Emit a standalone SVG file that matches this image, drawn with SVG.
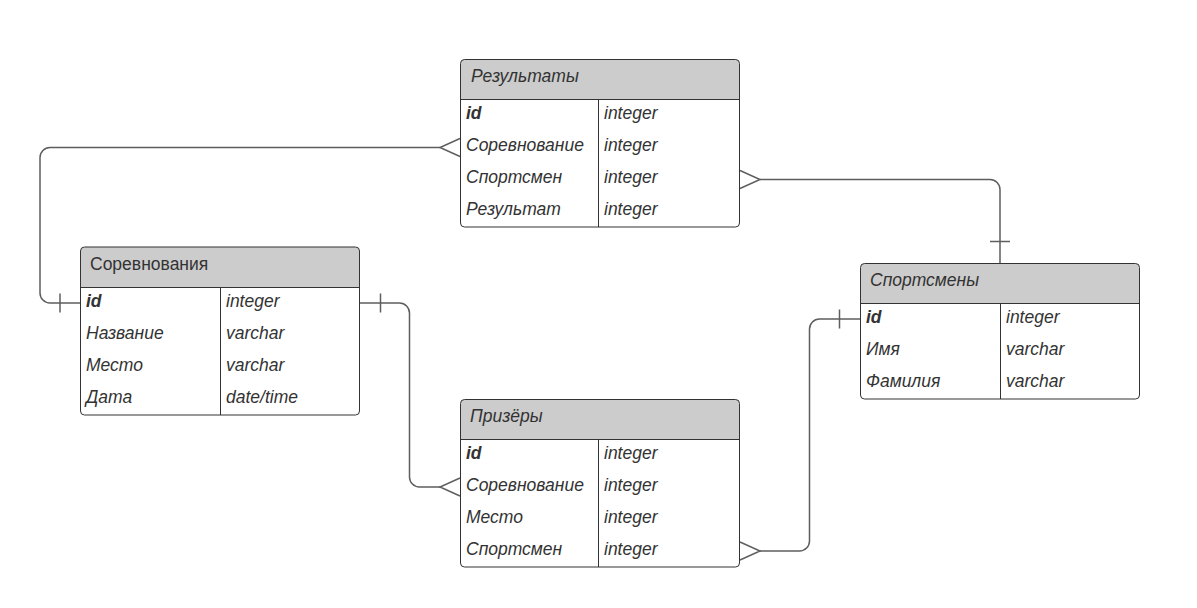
<svg xmlns="http://www.w3.org/2000/svg" width="1197" height="608" viewBox="0 0 1197 608">
<style>
.box{fill:none;stroke:#333333;stroke-width:1}
.hdr{fill:#cccccc}
.ln{stroke:#333333;stroke-width:1;fill:none}
.t{font-family:"Liberation Sans",Arial,sans-serif;font-size:17.5px;font-style:italic;fill:#333333}
.h{font-family:"Liberation Sans",Arial,sans-serif;font-size:17.5px;font-style:italic;fill:#333333}
.b{font-weight:bold}
.n{font-style:normal}
.c{stroke:#5e5e5e;stroke-width:1.5;fill:none}
</style>
<rect width="1197" height="608" fill="#ffffff"/>
<g id="connectors">
  <path class="c" d="M440,147.5 H50 A10,10 0 0 0 40,157.5 V293 A10,10 0 0 0 50,303 H80"/>
  <path class="c" d="M460,138.5 L440,147.5 L460,156.5"/>
  <path class="c" d="M60,293.5 V312.5"/>
  <path class="c" d="M360,303 H399.5 A10,10 0 0 1 409.5,313 V477 A10,10 0 0 0 419.5,487 H440"/>
  <path class="c" d="M380.5,293.5 V312.5"/>
  <path class="c" d="M460,478 L440,487 L460,496"/>
  <path class="c" d="M760,179.5 H990 A10,10 0 0 1 1000,189.5 V263"/>
  <path class="c" d="M740,170.5 L760,179.5 L740,188.5"/>
  <path class="c" d="M990,241.5 H1010"/>
  <path class="c" d="M760,551 H799.5 A10,10 0 0 0 809.5,541 V329 A10,10 0 0 1 819.5,319 H860"/>
  <path class="c" d="M740,542 L760,551 L740,560"/>
  <path class="c" d="M839.5,309.5 V328.5"/>
</g>
<g id="rezultaty">
  <path class="hdr" d="M464.5,59.5 H735.5 A4,4 0 0 1 739.5,63.5 V99.5 H460.5 V63.5 A4,4 0 0 1 464.5,59.5 Z"/>
  <rect class="box" x="460.5" y="59.5" width="279" height="167.5" rx="4"/>
  <path class="ln" d="M460.5,99.5 H739.5 M598.5,99.5 V227"/>
  <text class="h" x="471" y="82">Результаты</text>
  <text class="t b" x="466" y="119">id</text>
  <text class="t" x="466" y="151">Соревнование</text>
  <text class="t" x="466" y="183">Спортсмен</text>
  <text class="t" x="466" y="215">Результат</text>
  <text class="t" x="604" y="119">integer</text>
  <text class="t" x="604" y="151">integer</text>
  <text class="t" x="604" y="183">integer</text>
  <text class="t" x="604" y="215">integer</text>
</g>
<g id="sorevnovaniya">
  <path class="hdr" d="M84.5,247 H355.5 A4,4 0 0 1 359.5,251 V287.5 H80.5 V251 A4,4 0 0 1 84.5,247 Z"/>
  <rect class="box" x="80.5" y="247" width="279" height="168" rx="4"/>
  <path class="ln" d="M80.5,287.5 H359.5 M220.5,287.5 V415"/>
  <text class="h n" x="90" y="270">Соревнования</text>
  <text class="t b" x="86" y="307">id</text>
  <text class="t" x="86" y="339">Название</text>
  <text class="t" x="86" y="371">Место</text>
  <text class="t" x="86" y="403">Дата</text>
  <text class="t" x="226" y="307">integer</text>
  <text class="t" x="226" y="339">varchar</text>
  <text class="t" x="226" y="371">varchar</text>
  <text class="t" x="226" y="403">date/time</text>
</g>
<g id="sportsmeny">
  <path class="hdr" d="M864.5,263.5 H1135.5 A4,4 0 0 1 1139.5,267.5 V303.5 H860.5 V267.5 A4,4 0 0 1 864.5,263.5 Z"/>
  <rect class="box" x="860.5" y="263.5" width="279" height="135.5" rx="4"/>
  <path class="ln" d="M860.5,303.5 H1139.5 M1000.5,303.5 V399"/>
  <text class="h" x="870" y="286">Спортсмены</text>
  <text class="t b" x="866" y="323">id</text>
  <text class="t" x="866" y="355">Имя</text>
  <text class="t" x="866" y="387">Фамилия</text>
  <text class="t" x="1006" y="323">integer</text>
  <text class="t" x="1006" y="355">varchar</text>
  <text class="t" x="1006" y="387">varchar</text>
</g>
<g id="prizery">
  <path class="hdr" d="M464.5,399.5 H735.5 A4,4 0 0 1 739.5,403.5 V439.5 H460.5 V403.5 A4,4 0 0 1 464.5,399.5 Z"/>
  <rect class="box" x="460.5" y="399.5" width="279" height="167.5" rx="4"/>
  <path class="ln" d="M460.5,439.5 H739.5 M598.5,439.5 V567"/>
  <text class="h" x="470" y="422">Призёры</text>
  <text class="t b" x="466" y="459">id</text>
  <text class="t" x="466" y="491">Соревнование</text>
  <text class="t" x="466" y="523">Место</text>
  <text class="t" x="466" y="555">Спортсмен</text>
  <text class="t" x="604" y="459">integer</text>
  <text class="t" x="604" y="491">integer</text>
  <text class="t" x="604" y="523">integer</text>
  <text class="t" x="604" y="555">integer</text>
</g>
</svg>
